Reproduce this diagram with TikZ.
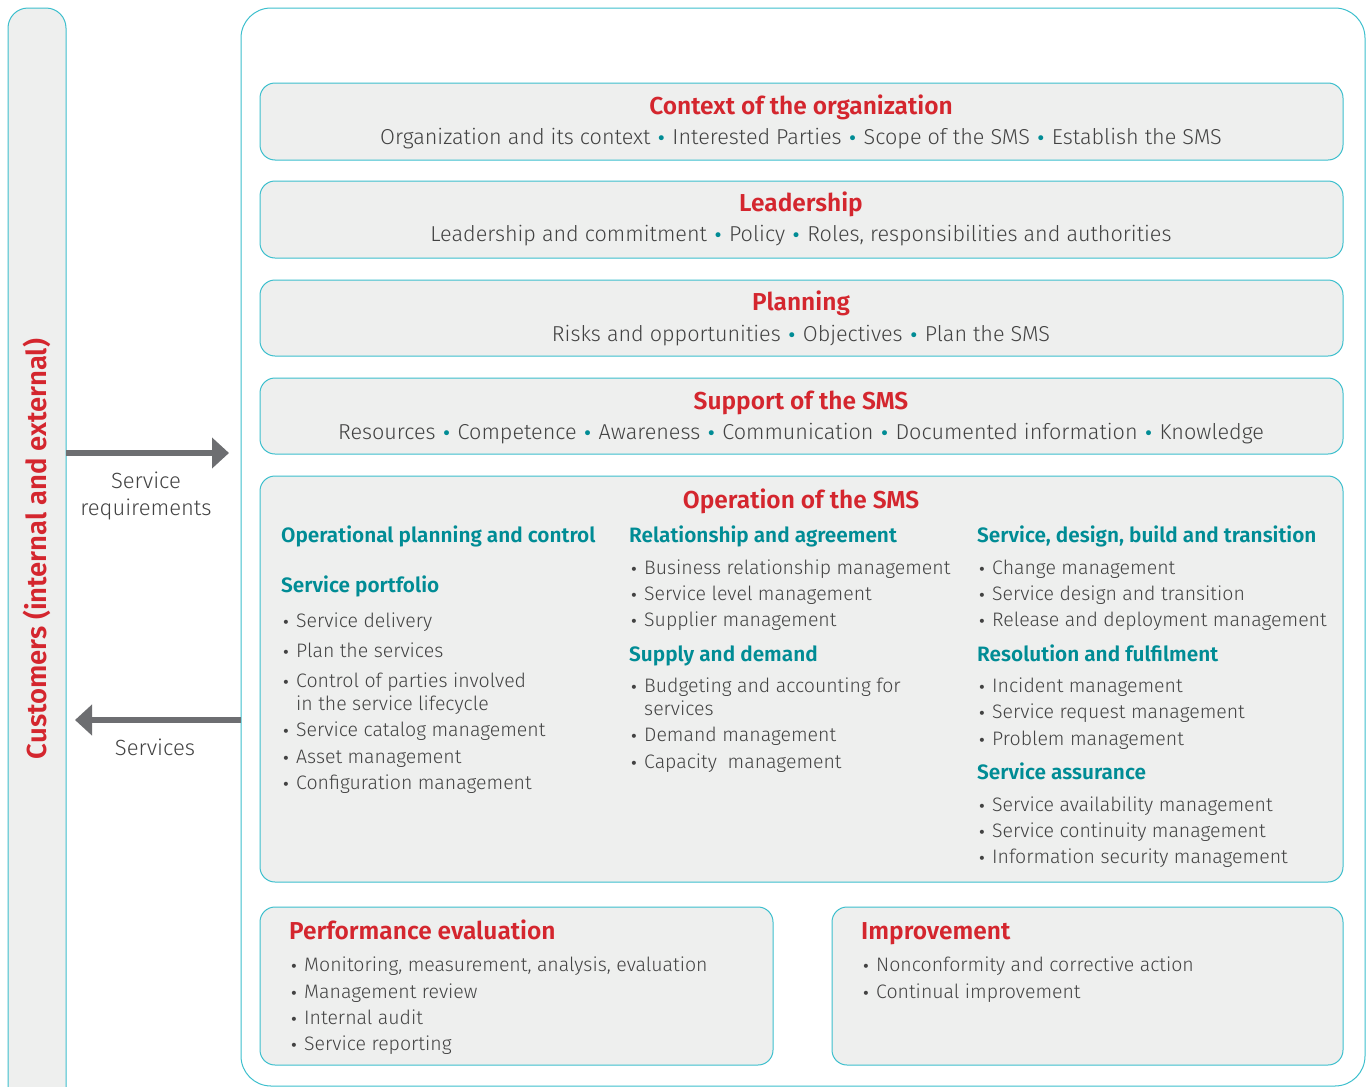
\documentclass[tikz,border=0pt]{standalone}
\usepackage{fontspec}
\setmainfont{Fira Sans}[UprightFont=* Light, BoldFont=* SemiBold]
\newfontfamily\dv{DejaVu Sans}
\usetikzlibrary{arrows.meta}
\definecolor{tealb}{HTML}{3CBFCD}
\definecolor{fillg}{HTML}{EEEFEE}
\definecolor{redt}{HTML}{D4262E}
\definecolor{tealt}{HTML}{008C95}
\definecolor{txt}{HTML}{424242}
\definecolor{arrg}{HTML}{6D6E71}
\newcommand\tdot{\hspace{6pt}{\dv\fontsize{17}{20}\selectfont\textcolor{tealt}{•}}\hspace{6pt}}
\newcommand\bitem[3]{%
  \node[body,anchor=mid] at (#1,#2) {\dv\fontsize{14}{16}\selectfont •};
  \node[body,anchor=mid west] at (#1+10,#2) {#3};}
\tikzset{
  panel/.style={draw=tealb, line width=1pt, fill=fillg, rounded corners=15pt},
  ttl/.style={font=\bfseries\fontsize{24.5}{28}\selectfont, text=redt, inner sep=0},
  sub/.style={font=\bfseries\fontsize{20.8}{24}\selectfont, text=tealt, anchor=mid west, inner sep=0},
  body/.style={font=\fontsize{19.5}{23}\selectfont, text=txt, inner sep=0},
  pbody/.style={font=\fontsize{21.6}{26}\selectfont, text=txt, inner sep=0, anchor=mid},
  bigarrow/.style={draw=arrg, line width=6pt, -{Triangle[length=17pt,width=30pt]}}
}
\begin{document}
\begin{tikzpicture}[x=1pt,y=-1pt]
\useasboundingbox (0,0) rectangle (1366,1087);
% left customers bar and outer frame
\path[panel, rounded corners=20pt] (8,8) rectangle (66,1110);
\draw[tealb, line width=1pt, rounded corners=30pt] (241,8) rectangle (1365,1086);
% panels
\path[panel] (260,83) rectangle (1343,160);
\path[panel] (260,181) rectangle (1343,258);
\path[panel] (260,280) rectangle (1343,356);
\path[panel] (260,378) rectangle (1343,454);
\path[panel] (260,476) rectangle (1343,882);
\path[panel] (260,907) rectangle (773,1065);
\path[panel] (832,907) rectangle (1343,1065);
% arrows
\coordinate (a1s) at (66,453);
\coordinate (a1e) at (229,453);
\coordinate (a2s) at (241,720);
\coordinate (a2e) at (75,720);
\draw[bigarrow] (a1s) -- (a1e);
\draw[bigarrow] (a2s) -- (a2e);
\node[rotate=90, font=\bfseries\fontsize{27.5}{30}\selectfont, text=redt, inner sep=0] (cust) at (37,549) {Customers (internal and external)};
\begin{scope}[yshift=-5pt]
\node[pbody, font=\fontsize{22}{26}\selectfont] (sreq1) at (146,481) {Service};
\node[pbody, font=\fontsize{22}{26}\selectfont] (sreq2) at (146,508) {requirements};
\node[pbody, font=\fontsize{22}{26}\selectfont] (serv) at (155,748) {Services};
% context
\node[ttl, anchor=mid] (t1) at (801,107) {Context of the organization};
\node[pbody] (b1) at (801,137) {Organization and its context\tdot Interested Parties\tdot Scope of the SMS\tdot Establish the SMS};
\node[ttl, anchor=mid] (t2) at (801,204) {Leadership};
\node[pbody] (b2) at (801,234) {Leadership and commitment\tdot Policy\tdot Roles, responsibilities and authorities};
\node[ttl, anchor=mid] (t3) at (801,303) {Planning};
\node[pbody] (b3) at (801,334) {Risks and opportunities\tdot Objectives\tdot Plan the SMS};
\node[ttl, anchor=mid] (t4) at (801,402) {Support of the SMS};
\node[pbody] (b4) at (801,432) {Resources\tdot Competence\tdot Awareness\tdot Communication\tdot Documented information\tdot Knowledge};
% operation
\node[ttl, anchor=mid] (t5) at (801,501) {Operation of the SMS};
\node[sub] (s11) at (281,535) {Operational planning and control};
\node[sub] (s12) at (281,585) {Service portfolio};
\bitem{286}{620}{Service delivery}
\bitem{286}{650}{Plan the services}
\bitem{286}{680}{Control of parties involved}
\node[body,anchor=mid west] (c1x) at (296,703) {in the service lifecycle};
\bitem{286}{729}{Service catalog management}
\bitem{286}{756}{Asset management}
\bitem{286}{782}{Configuration management}
\node[sub] (s21) at (629,535) {Relationship and agreement};
\bitem{634}{567}{Business relationship management}
\bitem{634}{593}{Service level management}
\bitem{634}{619}{Supplier management}
\node[sub] (s22) at (629,654) {Supply and demand};
\bitem{634}{685}{Budgeting and accounting for}
\node[body,anchor=mid west] (c2x) at (644,708) {services};
\bitem{634}{734}{Demand management}
\bitem{634}{761}{Capacity\ \ management}
\node[sub] (s31) at (977,535) {Service, design, build and transition};
\bitem{982}{567}{Change management}
\bitem{982}{593}{Service design and transition}
\bitem{982}{619}{Release and deployment management}
\node[sub] (s32) at (977,654) {Resolution and fulfilment};
\bitem{982}{685}{Incident management}
\bitem{982}{711}{Service request management}
\bitem{982}{738}{Problem management}
\node[sub] (s33) at (977,772) {Service assurance};
\bitem{982}{804}{Service availability management}
\bitem{982}{830}{Service continuity management}
\bitem{982}{856}{Information security management}
% performance evaluation
\node[ttl, anchor=mid west] (t6) at (289,932) {Performance evaluation};
\bitem{294}{964}{Monitoring, measurement, analysis, evaluation}
\bitem{294}{991}{Management review}
\bitem{294}{1017}{Internal audit}
\bitem{294}{1043}{Service reporting}
% improvement
\node[ttl, anchor=mid west] (t7) at (861,932) {Improvement};
\bitem{866}{964}{Nonconformity and corrective action}
\bitem{866}{991}{Continual improvement}
\end{scope}
\end{tikzpicture}
\end{document}
